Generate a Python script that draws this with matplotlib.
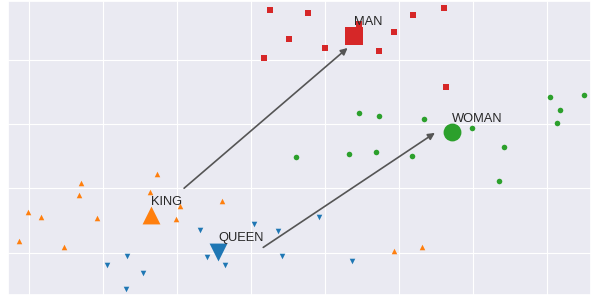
import matplotlib
matplotlib.use("Agg")
import matplotlib.pyplot as plt
import seaborn as sns

# --- 데이터 (2D 투영 좌표, 눈금 간격 = 1) ---
red_x = [3.26, 3.52, 3.18, 3.77, 4.01, 4.46, 4.94, 5.19, 5.61, 4.73, 5.64]
red_y = [3.77, 3.32, 3.02, 3.72, 3.18, 3.55, 3.43, 3.69, 3.80, 3.14, 2.58]

green_x = [4.46, 4.73, 5.34, 5.99, 6.43, 7.05, 7.18, 7.14, 7.50, 3.61, 4.33, 4.69, 5.18, 6.35]
green_y = [2.17, 2.12, 2.08, 1.94, 1.64, 2.42, 2.21, 2.01, 2.45, 1.48, 1.53, 1.56, 1.50, 1.11]

orange_x = [1.73, 0.70, 0.68, 1.64, 2.04, 2.61, -0.01, 0.16, 0.92, 1.99, -0.13, 0.48, 4.94, 5.31]
orange_y = [1.22, 1.08, 0.90, 0.94, 0.72, 0.80, 0.63, 0.56, 0.54, 0.52, 0.18, 0.09, 0.03, 0.08]

blue_x = [2.31, 3.05, 3.37, 1.33, 1.06, 2.41, 2.65, 3.42, 1.55, 1.31, 3.92, 4.37]
blue_y = [0.35, 0.44, 0.34, -0.06, -0.20, -0.07, -0.19, -0.06, -0.32, -0.57, 0.55, -0.13]

words = ["KING", "QUEEN", "MAN", "WOMAN"]
word_x = [1.65, 2.56, 4.39, 5.72]
word_y = [0.58, 0.01, 3.37, 1.87]

# 화살표 (시작 -> 끝)
arrow_start_x = [2.10, 3.17]
arrow_start_y = [1.00, 0.08]
arrow_end_x = [4.31, 5.49]
arrow_end_y = [3.18, 1.86]

# --- 스타일 ---
sns.set_theme(style="darkgrid", rc={"grid.linewidth": 0.8})
plt.rcParams['font.family'] = ['Liberation Sans', 'DejaVu Sans']

fig = plt.figure(figsize=(5.91, 2.97), dpi=100)
ax = fig.add_axes([8 / 591, 2 / 297, 583 / 591, 294 / 297])

small = 13
big = 165
ax.scatter(red_x, red_y, marker="s", s=small, color="#d62728", linewidths=0, zorder=3)
ax.scatter(green_x, green_y, marker="o", s=small + 3, color="#2ca02c", linewidths=0, zorder=3)
ax.scatter(orange_x, orange_y, marker="^", s=small + 3, color="#ff7f0e", linewidths=0, zorder=3)
ax.scatter(blue_x, blue_y, marker="v", s=small + 3, color="#1f77b4", linewidths=0, zorder=3)

big_markers = ["^", "v", "s", "o"]
big_colors = ["#ff7f0e", "#1f77b4", "#d62728", "#2ca02c"]
for w, x, y, m, c in zip(words, word_x, word_y, big_markers, big_colors):
    ax.scatter([x], [y], marker=m, s=big, color=c, linewidths=0, zorder=4)
    ax.annotate(w, (x, y), xytext=(0, 7.5), textcoords="offset points",
                fontsize=9.3, color="#262626", va="baseline", ha="left", zorder=5)

for sx, sy, ex, ey in zip(arrow_start_x, arrow_start_y, arrow_end_x, arrow_end_y):
    ax.annotate("", xy=(ex, ey), xytext=(sx, sy),
                arrowprops=dict(arrowstyle="-|>", color="#555555", lw=1.2,
                                mutation_scale=10, shrinkA=0, shrinkB=0),
                zorder=5)

ax.set_xlim(-0.28, 7.60)
ax.set_ylim(-0.66, 3.91)
ax.set_xticks(range(0, 8))
ax.set_yticks(range(0, 4))
ax.set_xticklabels([])
ax.set_yticklabels([])
ax.tick_params(length=0)

fig.savefig("out.png", dpi=100)
